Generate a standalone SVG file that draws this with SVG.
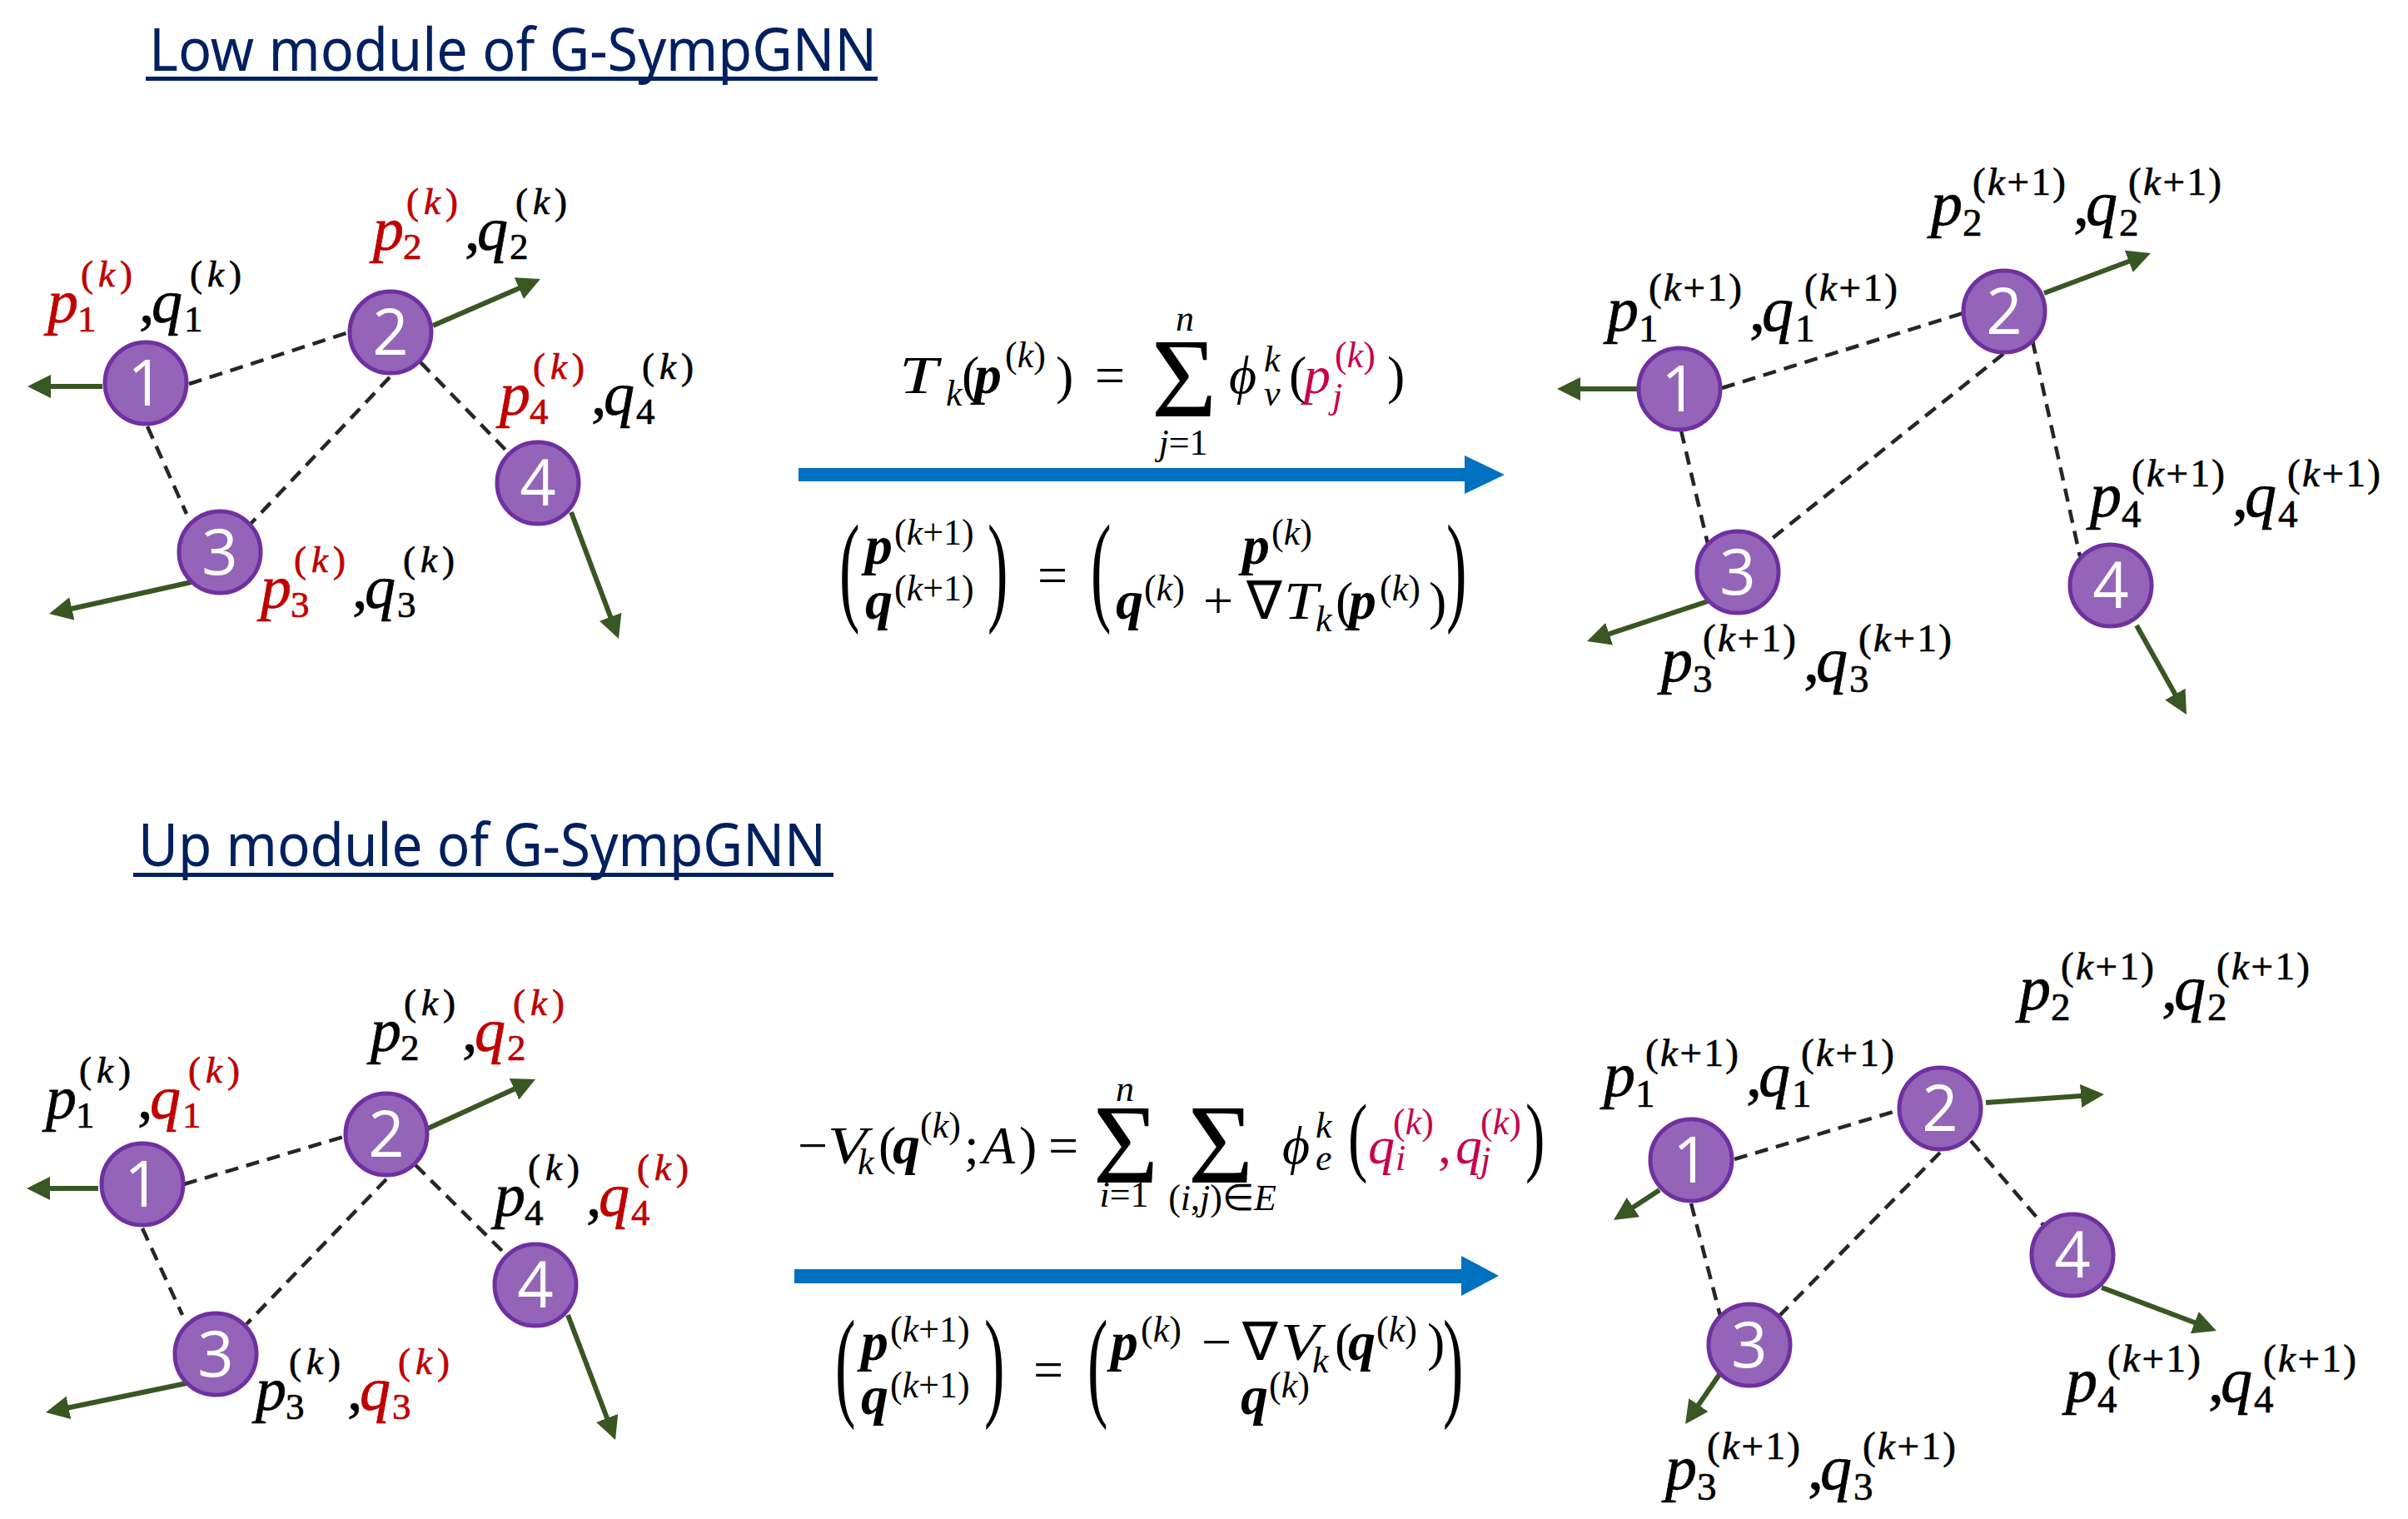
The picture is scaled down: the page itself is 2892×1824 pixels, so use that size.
<svg xmlns="http://www.w3.org/2000/svg" width="2892" height="1824" viewBox="0 0 2892 1824">
<style>
.bg{fill:#fff}
.title{font-family:"Noto Sans","Open Sans",sans-serif;font-size:72px;fill:#002060}
.ul{fill:#002060}
.nd circle{fill:#9364b8;stroke:#7030a0;stroke-width:5}
.nd text{font-family:"Open Sans","Noto Sans",sans-serif;font-size:76px;fill:#fff;text-anchor:middle}
.edge{stroke:#262626;stroke-width:4.5;stroke-dasharray:16 10;fill:none}
.vel{stroke:#385723;stroke-width:6;fill:none;marker-end:url(#ah)}
.m,.mu,.s,.m2,.mu2,.s2{font-family:"Liberation Serif",serif;fill:#000;stroke:#000;stroke-width:0.7}
.m{font-style:italic;font-size:74px}
.mu{font-size:74px}
.s{font-size:45px}
.m2{font-style:italic;font-size:76px}
.mu2{font-size:76px}
.s2{font-size:47px}
.it{font-style:italic}
.r{fill:#c00000;stroke:#c00000}
.f{font-family:"Liberation Serif",serif;font-size:64px}
.fi{font-family:"Liberation Serif",serif;font-size:64px;font-style:italic}
.fb{font-family:"Liberation Serif",serif;font-size:66px;font-style:italic;font-weight:bold}
.fs{font-family:"Liberation Serif",serif;font-size:44px}
.fsi{font-family:"Liberation Serif",serif;font-size:44px;font-style:italic}
.sig{font-family:"Liberation Serif",serif;font-size:135px;text-anchor:middle}
.mid{text-anchor:middle}
.fr{fill:#c8004b}
.blue{fill:#0070c0}
</style>
<defs>
<marker id="ah" markerUnits="userSpaceOnUse" markerWidth="28" markerHeight="28" viewBox="0 0 28 28" refX="18" refY="14" orient="auto">
<path d="M0,0 L28,14 L0,28 Z" fill="#385723"/>
</marker>
</defs>
<rect class="bg" x="0" y="0" width="2892" height="1824"/>

<g id="titles">
<text class="title" x="179" y="85" textLength="874" lengthAdjust="spacingAndGlyphs">Low module of G-SympGNN</text>
<rect class="ul" x="175" y="92" width="879" height="5"/>
<text class="title" x="166" y="1040" textLength="826" lengthAdjust="spacingAndGlyphs">Up module of G-SympGNN</text>
<rect class="ul" x="160" y="1048" width="841" height="5"/>
</g>

<g id="connectors">
<!-- top-left graph -->
<line class="edge" x1="227" y1="461" x2="419" y2="399"/>
<line class="edge" x1="505" y1="435" x2="608" y2="541"/>
<line class="edge" x1="468" y1="453" x2="301" y2="629"/>
<line class="edge" x1="177" y1="512" x2="224" y2="617"/>
<line class="vel" x1="123" y1="464" x2="43" y2="464"/>
<line class="vel" x1="520" y1="391" x2="639.8" y2="339"/>
<line class="vel" x1="230" y1="699" x2="68.8" y2="734.8"/>
<line class="vel" x1="686" y1="615" x2="739.5" y2="757.6"/>
<!-- top-right graph -->
<line class="edge" x1="2068" y1="466" x2="2361" y2="375"/>
<line class="edge" x1="2406" y1="425" x2="2124" y2="650"/>
<line class="edge" x1="2441" y1="409" x2="2498" y2="668"/>
<line class="edge" x1="2019" y1="517" x2="2051" y2="653"/>
<line class="vel" x1="1967" y1="467" x2="1880" y2="467"/>
<line class="vel" x1="2455" y1="352" x2="2573.6" y2="307.5"/>
<line class="vel" x1="2051" y1="722" x2="1915.5" y2="766.9"/>
<line class="vel" x1="2566" y1="751" x2="2621.1" y2="849.3"/>
<!-- bottom-left graph -->
<line class="edge" x1="221" y1="1422" x2="416" y2="1364"/>
<line class="edge" x1="499" y1="1399" x2="603" y2="1502"/>
<line class="edge" x1="464" y1="1416" x2="296" y2="1590"/>
<line class="edge" x1="171" y1="1475" x2="219" y2="1579"/>
<line class="vel" x1="118" y1="1427" x2="42" y2="1427"/>
<line class="vel" x1="514" y1="1355" x2="633.9" y2="1300.2"/>
<line class="vel" x1="224" y1="1661" x2="64.8" y2="1694"/>
<line class="vel" x1="682" y1="1579" x2="735.5" y2="1719.7"/>
<!-- bottom-right graph -->
<line class="edge" x1="2083" y1="1392" x2="2281" y2="1333"/>
<line class="edge" x1="2367" y1="1370" x2="2455" y2="1472"/>
<line class="edge" x1="2330" y1="1384" x2="2137" y2="1580"/>
<line class="edge" x1="2031" y1="1445" x2="2066" y2="1580"/>
<line class="vel" x1="1993" y1="1429" x2="1946.4" y2="1459.5"/>
<line class="vel" x1="2385" y1="1324" x2="2517" y2="1314.7"/>
<line class="vel" x1="2066" y1="1649" x2="2029.7" y2="1701.8"/>
<line class="vel" x1="2524" y1="1546" x2="2652.6" y2="1594.5"/>
<!-- big blue arrows -->
<polygon class="blue" points="959,562 1759,562 1759,547 1807,570 1759,593 1759,578 959,578"/>
<polygon class="blue" points="954,1524 1755,1524 1755,1508 1800,1532 1755,1556 1755,1541 954,1541"/>
</g>

<!-- nodes -->
<g id="tl-n1" class="nd"><circle cx="175" cy="460" r="49"/><text x="175" y="487">1</text></g>
<g id="tl-n2" class="nd"><circle cx="469" cy="399" r="49"/><text x="469" y="426">2</text></g>
<g id="tl-n3" class="nd"><circle cx="264" cy="663" r="49"/><text x="264" y="690">3</text></g>
<g id="tl-n4" class="nd"><circle cx="646" cy="580" r="49"/><text x="646" y="607">4</text></g>
<g id="tr-n1" class="nd"><circle cx="2017" cy="467" r="49"/><text x="2017" y="494">1</text></g>
<g id="tr-n2" class="nd"><circle cx="2407" cy="374" r="49"/><text x="2407" y="401">2</text></g>
<g id="tr-n3" class="nd"><circle cx="2087" cy="687" r="49"/><text x="2087" y="714">3</text></g>
<g id="tr-n4" class="nd"><circle cx="2535" cy="703" r="49"/><text x="2535" y="730">4</text></g>
<g id="bl-n1" class="nd"><circle cx="171" cy="1422" r="49"/><text x="171" y="1449">1</text></g>
<g id="bl-n2" class="nd"><circle cx="464" cy="1362" r="49"/><text x="464" y="1389">2</text></g>
<g id="bl-n3" class="nd"><circle cx="259" cy="1626" r="49"/><text x="259" y="1653">3</text></g>
<g id="bl-n4" class="nd"><circle cx="643" cy="1543" r="49"/><text x="643" y="1570">4</text></g>
<g id="br-n1" class="nd"><circle cx="2031" cy="1393" r="49"/><text x="2031" y="1420">1</text></g>
<g id="br-n2" class="nd"><circle cx="2330" cy="1331" r="49"/><text x="2330" y="1358">2</text></g>
<g id="br-n3" class="nd"><circle cx="2101" cy="1615" r="49"/><text x="2101" y="1642">3</text></g>
<g id="br-n4" class="nd"><circle cx="2489" cy="1507" r="49"/><text x="2489" y="1534">4</text></g>

<!-- top-left labels (p red) -->
<g id="tl-l1" transform="translate(57,387)">
<text class="m r" x="0" y="0">p</text><text class="s r" x="36" y="11">1</text><text class="s r" x="40" y="-43" textLength="62">(<tspan class="it">k</tspan>)</text>
<text class="mu" x="110" y="0">,</text>
<text class="m" x="125" y="0">q</text><text class="s" x="164" y="11">1</text><text class="s" x="171" y="-43" textLength="62">(<tspan class="it">k</tspan>)</text>
</g>
<g id="tl-l2" transform="translate(448,300)">
<text class="m r" x="0" y="0">p</text><text class="s r" x="36" y="11">2</text><text class="s r" x="40" y="-43" textLength="62">(<tspan class="it">k</tspan>)</text>
<text class="mu" x="110" y="0">,</text>
<text class="m" x="125" y="0">q</text><text class="s" x="164" y="11">2</text><text class="s" x="171" y="-43" textLength="62">(<tspan class="it">k</tspan>)</text>
</g>
<g id="tl-l3" transform="translate(313,730)">
<text class="m r" x="0" y="0">p</text><text class="s r" x="36" y="11">3</text><text class="s r" x="40" y="-43" textLength="62">(<tspan class="it">k</tspan>)</text>
<text class="mu" x="110" y="0">,</text>
<text class="m" x="125" y="0">q</text><text class="s" x="164" y="11">3</text><text class="s" x="171" y="-43" textLength="62">(<tspan class="it">k</tspan>)</text>
</g>
<g id="tl-l4" transform="translate(600,498)">
<text class="m r" x="0" y="0">p</text><text class="s r" x="36" y="11">4</text><text class="s r" x="40" y="-43" textLength="62">(<tspan class="it">k</tspan>)</text>
<text class="mu" x="110" y="0">,</text>
<text class="m" x="125" y="0">q</text><text class="s" x="164" y="11">4</text><text class="s" x="171" y="-43" textLength="62">(<tspan class="it">k</tspan>)</text>
</g>

<!-- bottom-left labels (q red) -->
<g id="bl-l1" transform="translate(55,1343)">
<text class="m" x="0" y="0">p</text><text class="s" x="36" y="11">1</text><text class="s" x="40" y="-43" textLength="62">(<tspan class="it">k</tspan>)</text>
<text class="mu" x="110" y="0">,</text>
<text class="m r" x="125" y="0">q</text><text class="s r" x="164" y="11">1</text><text class="s r" x="171" y="-43" textLength="62">(<tspan class="it">k</tspan>)</text>
</g>
<g id="bl-l2" transform="translate(445,1262)">
<text class="m" x="0" y="0">p</text><text class="s" x="36" y="11">2</text><text class="s" x="40" y="-43" textLength="62">(<tspan class="it">k</tspan>)</text>
<text class="mu" x="110" y="0">,</text>
<text class="m r" x="125" y="0">q</text><text class="s r" x="164" y="11">2</text><text class="s r" x="171" y="-43" textLength="62">(<tspan class="it">k</tspan>)</text>
</g>
<g id="bl-l3" transform="translate(307,1693)">
<text class="m" x="0" y="0">p</text><text class="s" x="36" y="11">3</text><text class="s" x="40" y="-43" textLength="62">(<tspan class="it">k</tspan>)</text>
<text class="mu" x="110" y="0">,</text>
<text class="m r" x="125" y="0">q</text><text class="s r" x="164" y="11">3</text><text class="s r" x="171" y="-43" textLength="62">(<tspan class="it">k</tspan>)</text>
</g>
<g id="bl-l4" transform="translate(594,1460)">
<text class="m" x="0" y="0">p</text><text class="s" x="36" y="11">4</text><text class="s" x="40" y="-43" textLength="62">(<tspan class="it">k</tspan>)</text>
<text class="mu" x="110" y="0">,</text>
<text class="m r" x="125" y="0">q</text><text class="s r" x="164" y="11">4</text><text class="s r" x="171" y="-43" textLength="62">(<tspan class="it">k</tspan>)</text>
</g>

<!-- top-right labels -->
<g id="tr-l1" transform="translate(1930,397)">
<text class="m2" x="0" y="0">p</text><text class="s2" x="38" y="13">1</text><text class="s2" x="50" y="-36" textLength="112">(<tspan class="it">k</tspan>+1)</text>
<text class="mu2" x="171" y="0">,</text>
<text class="m2" x="186" y="0">q</text><text class="s2" x="226" y="13">1</text><text class="s2" x="237" y="-36" textLength="112">(<tspan class="it">k</tspan>+1)</text>
</g>
<g id="tr-l2" transform="translate(2319,270)">
<text class="m2" x="0" y="0">p</text><text class="s2" x="38" y="13">2</text><text class="s2" x="50" y="-36" textLength="112">(<tspan class="it">k</tspan>+1)</text>
<text class="mu2" x="171" y="0">,</text>
<text class="m2" x="186" y="0">q</text><text class="s2" x="226" y="13">2</text><text class="s2" x="237" y="-36" textLength="112">(<tspan class="it">k</tspan>+1)</text>
</g>
<g id="tr-l3" transform="translate(1995,818)">
<text class="m2" x="0" y="0">p</text><text class="s2" x="38" y="13">3</text><text class="s2" x="50" y="-36" textLength="112">(<tspan class="it">k</tspan>+1)</text>
<text class="mu2" x="171" y="0">,</text>
<text class="m2" x="186" y="0">q</text><text class="s2" x="226" y="13">3</text><text class="s2" x="237" y="-36" textLength="112">(<tspan class="it">k</tspan>+1)</text>
</g>
<g id="tr-l4" transform="translate(2510,620)">
<text class="m2" x="0" y="0">p</text><text class="s2" x="38" y="13">4</text><text class="s2" x="50" y="-36" textLength="112">(<tspan class="it">k</tspan>+1)</text>
<text class="mu2" x="171" y="0">,</text>
<text class="m2" x="186" y="0">q</text><text class="s2" x="226" y="13">4</text><text class="s2" x="237" y="-36" textLength="112">(<tspan class="it">k</tspan>+1)</text>
</g>

<!-- bottom-right labels -->
<g id="br-l1" transform="translate(1926,1316)">
<text class="m2" x="0" y="0">p</text><text class="s2" x="38" y="13">1</text><text class="s2" x="50" y="-36" textLength="112">(<tspan class="it">k</tspan>+1)</text>
<text class="mu2" x="171" y="0">,</text>
<text class="m2" x="186" y="0">q</text><text class="s2" x="226" y="13">1</text><text class="s2" x="237" y="-36" textLength="112">(<tspan class="it">k</tspan>+1)</text>
</g>
<g id="br-l2" transform="translate(2425,1212)">
<text class="m2" x="0" y="0">p</text><text class="s2" x="38" y="13">2</text><text class="s2" x="50" y="-36" textLength="112">(<tspan class="it">k</tspan>+1)</text>
<text class="mu2" x="171" y="0">,</text>
<text class="m2" x="186" y="0">q</text><text class="s2" x="226" y="13">2</text><text class="s2" x="237" y="-36" textLength="112">(<tspan class="it">k</tspan>+1)</text>
</g>
<g id="br-l3" transform="translate(2000,1788)">
<text class="m2" x="0" y="0">p</text><text class="s2" x="38" y="13">3</text><text class="s2" x="50" y="-36" textLength="112">(<tspan class="it">k</tspan>+1)</text>
<text class="mu2" x="171" y="0">,</text>
<text class="m2" x="186" y="0">q</text><text class="s2" x="226" y="13">3</text><text class="s2" x="237" y="-36" textLength="112">(<tspan class="it">k</tspan>+1)</text>
</g>
<g id="br-l4" transform="translate(2481,1683)">
<text class="m2" x="0" y="0">p</text><text class="s2" x="38" y="13">4</text><text class="s2" x="50" y="-36" textLength="112">(<tspan class="it">k</tspan>+1)</text>
<text class="mu2" x="171" y="0">,</text>
<text class="m2" x="186" y="0">q</text><text class="s2" x="226" y="13">4</text><text class="s2" x="237" y="-36" textLength="112">(<tspan class="it">k</tspan>+1)</text>
</g>

<!-- formula 1: T_k -->
<g id="formula-low-T">
<text class="fi" transform="translate(1080,472) scale(1.3,1)">T</text>
<text class="fsi" x="1136" y="487">k</text>
<text class="f" x="1155" y="472">(</text>
<text class="fb" x="1170" y="472">p</text>
<text class="fs" x="1207" y="441">(<tspan class="it">k</tspan>)</text>
<text class="f" x="1268" y="472">)</text>
<text class="f" x="1315" y="472">=</text>
<text class="sig" x="1422" y="500">Σ</text>
<text class="fsi mid" x="1423" y="397">n</text>
<text class="fs mid" x="1421" y="546"><tspan class="it">j</tspan>=1</text>
<text class="fi" x="1476" y="472">ϕ</text>
<text class="fsi" x="1518" y="446">k</text>
<text class="fsi" x="1518" y="487">v</text>
<text class="f" x="1548" y="472">(</text>
<text class="fi fr" x="1566" y="472">p</text>
<text class="fs fr" x="1603" y="441">(<tspan class="it">k</tspan>)</text>
<text class="fsi fr" x="1600" y="490">j</text>
<text class="f" x="1666" y="472">)</text>
</g>

<!-- formula 1: update -->
<g id="formula-low-update">
<text class="f" transform="translate(1008,731) scale(1.15,2.3)">(</text>
<text class="fb" x="1039" y="677">p</text>
<text class="fs" x="1074" y="654">(<tspan class="it">k</tspan>+1)</text>
<text class="fb" x="1039" y="743">q</text>
<text class="fs" x="1074" y="721">(<tspan class="it">k</tspan>+1)</text>
<text class="f" transform="translate(1186,731) scale(1.15,2.3)">)</text>
<text class="f" x="1246" y="712">=</text>
<text class="f" transform="translate(1310,731) scale(1.15,2.3)">(</text>
<text class="fb" x="1492" y="677">p</text>
<text class="fs" x="1527" y="654">(<tspan class="it">k</tspan>)</text>
<text class="fb" x="1340" y="743">q</text>
<text class="fs" x="1374" y="721">(<tspan class="it">k</tspan>)</text>
<text class="f" x="1445" y="743">+</text>
<text class="f" x="1497" y="743">∇</text>
<text class="fi" transform="translate(1542,743) scale(1.15,1)">T</text>
<text class="fsi" x="1580" y="758">k</text>
<text class="f" x="1604" y="743">(</text>
<text class="fb" x="1620" y="743">p</text>
<text class="fs" x="1657" y="721">(<tspan class="it">k</tspan>)</text>
<text class="f" x="1716" y="743">)</text>
<text class="f" transform="translate(1737,731) scale(1.15,2.3)">)</text>
</g>

<!-- formula 2: V_k -->
<g id="formula-up-V">
<text class="f" x="958" y="1397">−</text>
<text class="fi" transform="translate(994,1397) scale(1.2,1)">V</text>
<text class="fsi" x="1030" y="1410">k</text>
<text class="f" x="1055" y="1397">(</text>
<text class="fb" x="1072" y="1397">q</text>
<text class="fs" x="1105" y="1366">(<tspan class="it">k</tspan>)</text>
<text class="f" x="1158" y="1397">;</text>
<text class="fi" x="1180" y="1397">A</text>
<text class="f" x="1224" y="1397">)</text>
<text class="f" x="1259" y="1397">=</text>
<text class="sig" x="1352" y="1420">Σ</text>
<text class="fsi mid" x="1351" y="1322">n</text>
<text class="fs mid" x="1350" y="1449"><tspan class="it">i</tspan>=1</text>
<text class="sig" x="1466" y="1420">Σ</text>
<text class="fs mid" x="1468" y="1453">(<tspan class="it">i</tspan>,<tspan class="it">j</tspan>)∈<tspan class="it">E</tspan></text>
<text class="fi" x="1540" y="1397">ϕ</text>
<text class="fsi" x="1580" y="1366">k</text>
<text class="fsi" x="1580" y="1405">e</text>
<text class="f" transform="translate(1619,1399) scale(1.1,1.65)">(</text>
<text class="fi fr" x="1643" y="1397">q</text>
<text class="fs fr" x="1673" y="1362">(<tspan class="it">k</tspan>)</text>
<text class="fsi fr" x="1676" y="1405">i</text>
<text class="f fr" x="1727" y="1397">,</text>
<text class="fi fr" x="1748" y="1397">q</text>
<text class="fs fr" x="1778" y="1362">(<tspan class="it">k</tspan>)</text>
<text class="fsi fr" x="1778" y="1407">j</text>
<text class="f" transform="translate(1832,1399) scale(1.1,1.65)">)</text>
</g>

<!-- formula 2: update -->
<g id="formula-up-update">
<text class="f" transform="translate(1003,1686) scale(1.15,2.3)">(</text>
<text class="fb" x="1034" y="1633">p</text>
<text class="fs" x="1069" y="1611">(<tspan class="it">k</tspan>+1)</text>
<text class="fb" x="1034" y="1698">q</text>
<text class="fs" x="1069" y="1678">(<tspan class="it">k</tspan>+1)</text>
<text class="f" transform="translate(1182,1686) scale(1.15,2.3)">)</text>
<text class="f" x="1241" y="1666">=</text>
<text class="f" transform="translate(1306,1686) scale(1.15,2.3)">(</text>
<text class="fb" x="1334" y="1633">p</text>
<text class="fs" x="1370" y="1611">(<tspan class="it">k</tspan>)</text>
<text class="f" x="1443" y="1633">−</text>
<text class="f" x="1492" y="1633">∇</text>
<text class="fi" transform="translate(1538,1633) scale(1.2,1)">V</text>
<text class="fsi" x="1576" y="1648">k</text>
<text class="f" x="1603" y="1633">(</text>
<text class="fb" x="1619" y="1633">q</text>
<text class="fs" x="1653" y="1611">(<tspan class="it">k</tspan>)</text>
<text class="f" x="1714" y="1633">)</text>
<text class="fb" x="1490" y="1698">q</text>
<text class="fs" x="1524" y="1678">(<tspan class="it">k</tspan>)</text>
<text class="f" transform="translate(1733,1686) scale(1.15,2.3)">)</text>
</g>
</svg>
